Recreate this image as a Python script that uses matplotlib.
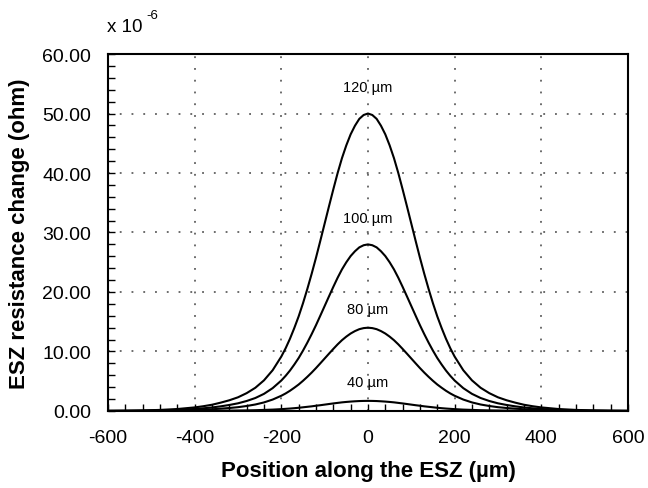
import matplotlib
matplotlib.use("Agg")
import matplotlib.pyplot as plt
from matplotlib.ticker import MultipleLocator, FormatStrFormatter

plt.rcParams['font.family'] = ['Liberation Sans', 'DejaVu Sans']
plt.rcParams['axes.unicode_minus'] = False

# Position along the ESZ (um)
pos = [-600, -560, -520, -480, -440,
       -400, -380, -360, -340, -320, -300, -280, -260, -240, -220,
       -200, -190, -180, -170, -160, -150, -140, -130, -120, -110,
       -100, -90, -80, -70, -60, -50, -40, -30, -20, -10,
       0,
       10, 20, 30, 40, 50, 60, 70, 80, 90, 100,
       110, 120, 130, 140, 150, 160, 170, 180, 190, 200,
       220, 240, 260, 280, 300, 320, 340, 360, 380, 400,
       440, 480, 520, 560, 600]

# Resistance change (x 1e-6 ohm)
r120 = [0.03, 0.05, 0.09, 0.18, 0.33,
        0.60, 0.80, 1.05, 1.40, 1.80, 2.30, 3.00, 3.90, 5.15, 6.85,
        9.15, 10.55, 12.15, 13.95, 15.90, 18.10, 20.50, 23.05, 25.75, 28.60,
        31.50, 34.40, 37.25, 40.00, 42.50, 44.65, 46.50, 47.95, 49.10, 49.75,
        50.00,
        49.75, 49.10, 47.95, 46.50, 44.65, 42.50, 40.00, 37.25, 34.40, 31.50,
        28.60, 25.75, 23.05, 20.50, 18.10, 15.90, 13.95, 12.15, 10.55, 9.15,
        6.85, 5.15, 3.90, 3.00, 2.30, 1.80, 1.40, 1.05, 0.80, 0.60,
        0.33, 0.18, 0.09, 0.05, 0.03]
r100 = [0.01, 0.03, 0.05, 0.10, 0.18,
        0.34, 0.45, 0.59, 0.78, 1.01, 1.29, 1.68, 2.18, 2.88, 3.84,
        5.12, 5.91, 6.80, 7.81, 8.90, 10.14, 11.48, 12.91, 14.42, 16.02,
        17.64, 19.26, 20.86, 22.40, 23.80, 25.00, 26.04, 26.85, 27.50, 27.86,
        28.00,
        27.86, 27.50, 26.85, 26.04, 25.00, 23.80, 22.40, 20.86, 19.26, 17.64,
        16.02, 14.42, 12.91, 11.48, 10.14, 8.90, 7.81, 6.80, 5.91, 5.12,
        3.84, 2.88, 2.18, 1.68, 1.29, 1.01, 0.78, 0.59, 0.45, 0.34,
        0.18, 0.10, 0.05, 0.03, 0.01]
r80 = [0.01, 0.01, 0.03, 0.05, 0.09,
       0.17, 0.22, 0.29, 0.39, 0.50, 0.64, 0.84, 1.09, 1.44, 1.92,
       2.56, 2.95, 3.40, 3.91, 4.45, 5.07, 5.74, 6.45, 7.21, 8.01,
       8.82, 9.63, 10.43, 11.20, 11.90, 12.50, 13.02, 13.43, 13.75, 13.93,
       14.00,
       13.93, 13.75, 13.43, 13.02, 12.50, 11.90, 11.20, 10.43, 9.63, 8.82,
       8.01, 7.21, 6.45, 5.74, 5.07, 4.45, 3.91, 3.40, 2.95, 2.56,
       1.92, 1.44, 1.09, 0.84, 0.64, 0.50, 0.39, 0.29, 0.22, 0.17,
       0.09, 0.05, 0.03, 0.01, 0.01]
r40 = [0.00, 0.00, 0.00, 0.01, 0.01,
       0.02, 0.03, 0.04, 0.05, 0.06, 0.08, 0.10, 0.13, 0.18, 0.23,
       0.31, 0.36, 0.41, 0.47, 0.54, 0.62, 0.70, 0.78, 0.88, 0.97,
       1.07, 1.17, 1.27, 1.36, 1.45, 1.52, 1.58, 1.63, 1.67, 1.69,
       1.70,
       1.69, 1.67, 1.63, 1.58, 1.52, 1.45, 1.36, 1.27, 1.17, 1.07,
       0.97, 0.88, 0.78, 0.70, 0.62, 0.54, 0.47, 0.41, 0.36, 0.31,
       0.23, 0.18, 0.13, 0.10, 0.08, 0.06, 0.05, 0.04, 0.03, 0.02,
       0.01, 0.01, 0.00, 0.00, 0.00]

series = [r120, r100, r80, r40]
labels = ["120 \u00b5m", "100 \u00b5m", "80 \u00b5m", "40 \u00b5m"]
label_y = [54.5, 32.5, 17.2, 4.8]

fig = plt.figure(figsize=(6.48, 4.89), dpi=100)
ax = fig.add_axes([0.1667, 0.1575, 0.8023, 0.73])

for s in series:
    ax.plot(pos, s, color='black', lw=1.5)

for lab, yy in zip(labels, label_y):
    ax.text(0, yy, lab, ha='center', va='center', fontsize=10.5)

ax.set_xlim(-600, 600)
ax.set_ylim(0, 60)
ax.xaxis.set_major_locator(MultipleLocator(200))
ax.xaxis.set_minor_locator(MultipleLocator(40))
ax.yaxis.set_major_locator(MultipleLocator(10))
ax.yaxis.set_minor_locator(MultipleLocator(2))
ax.yaxis.set_major_formatter(FormatStrFormatter('%.2f'))
ax.tick_params(which='both', direction='in', top=False, right=False, length=5, width=1,
               labelsize=14)
ax.tick_params(axis='y', pad=12)
ax.tick_params(axis='x', pad=13)
ax.grid(True, which='major', color='#444444', linestyle=(0, (1.2, 6.5)), lw=1.1)
for sp in ax.spines.values():
    sp.set_linewidth(1.5)

ax.set_xlabel("Position along the ESZ (\u00b5m)", fontsize=16, fontweight='bold', labelpad=10)
ax.set_ylabel("ESZ resistance change (ohm)", fontsize=16, fontweight='bold', labelpad=9)
fig.text(0.165, 0.935, "x 10", fontsize=13.5, ha='left', va='baseline')
fig.text(0.226, 0.962, "-6", fontsize=9.5, ha='left', va='baseline')

fig.savefig("out.png", dpi=100)
